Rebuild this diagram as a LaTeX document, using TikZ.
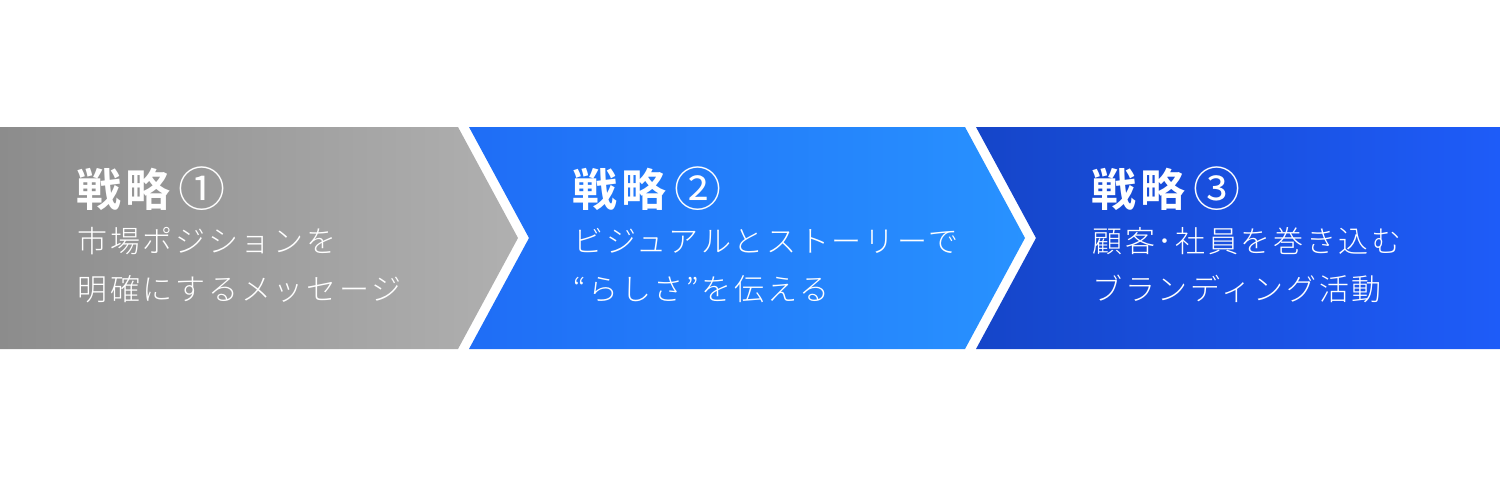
\documentclass[tikz,border=0pt]{standalone}
\usepackage{fontspec}
\usetikzlibrary{calc}
\IfFontExistsTF{Noto Sans CJK JP Bold}
  {\newfontfamily\titlefont{Noto Sans CJK JP Bold}[LetterSpace=10]}
  {\newfontfamily\titlefont{Noto Sans CJK JP}[LetterSpace=10]}
\newfontfamily\numfont{Noto Sans CJK JP}
\IfFontExistsTF{Noto Sans CJK JP Light}
  {\newfontfamily\bodyfont{Noto Sans CJK JP Light}[LetterSpace=9]}
  {\newfontfamily\bodyfont{Noto Sans CJK JP}[LetterSpace=9]}
\newcommand\circnum[1]{\hspace{4pt}{\numfont\fontsize{23.5}{27}\selectfont #1}}
\definecolor{grisA}{HTML}{8C8C8C}
\definecolor{grisB}{HTML}{B0B0B0}
\definecolor{azulA}{HTML}{1F6DF6}
\definecolor{azulB}{HTML}{2892FF}
\definecolor{marinoA}{HTML}{1545C9}
\definecolor{marinoB}{HTML}{1E5CF8}
\begin{document}
\begin{tikzpicture}[x=0.5pt,y=-0.5pt,
gris/.style ={left color=grisA, right color=grisB},
azul/.style ={left color=azulA, right color=azulB},
marino/.style ={left color=marinoA, right color=marinoB},
titulo/.style ={anchor=base west, inner sep=0pt, text=white, font=\titlefont\fontsize{22.5}{27}\selectfont},
texto/.style ={anchor=base west, inner sep=0pt, text=white, align=left, font=\bodyfont\fontsize{15}{24}\selectfont}
]
\useasboundingbox (0,0) rectangle (1500,478);
\shade[gris] (0,127) -- (458,127) -- (518,238) -- (458,349) -- (0,349) -- cycle;
\shade[azul] (469,127) -- (965,127) -- (1025,238) -- (965,349) -- (469,349) -- (529,238) -- cycle;
\shade[marino] (976,127) -- (1500,127) -- (1500,349) -- (976,349) -- (1036,238) -- cycle;
\draw (76,206) node[titulo] (T1) {戦略\circnum{①}};
\draw (572,206) node[titulo] (T2) {戦略\circnum{②}};
\draw (1091,206) node[titulo] (T3) {戦略\circnum{③}};
% el ancla base es la de la segunda linea
\draw (77,300) node[texto] (D1) {市場ポジションを\\明確にするメッセージ};
\draw (573,300) node[texto] (D2) {ビジュアルとストーリーで\\“らしさ”を伝える};
\draw (1092,300) node[texto] (D3) {顧客･社員を巻き込む\\ブランディング活動};
\end{tikzpicture}
\end{document}
